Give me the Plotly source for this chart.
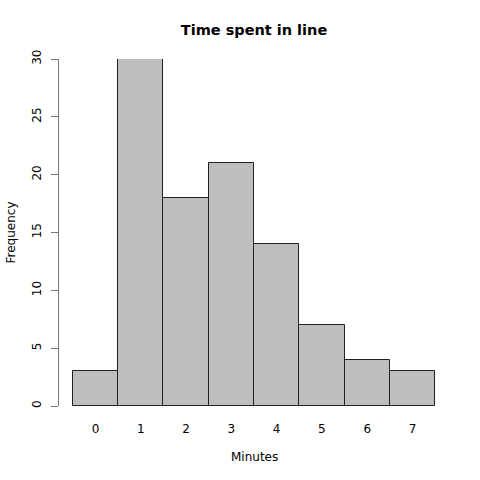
import plotly.graph_objects as go

minutes = [0, 1, 2, 3, 4, 5, 6, 7]
frequency = [3, 30, 18, 21, 14, 7, 4, 3]
y_ticks = [0, 5, 10, 15, 20, 25, 30]

font_family = "DejaVu Sans, Liberation Sans, sans-serif"

W = H = 480

fig = go.Figure(
    go.Bar(
        x=minutes,
        y=frequency,
        width=1,
        cliponaxis=False,
        marker=dict(color="#bebebe", line=dict(color="#222222", width=1)),
    )
)

fig.update_layout(
    width=W,
    height=H,
    margin=dict(l=59, r=31, t=59, b=74, autoexpand=False),
    paper_bgcolor="white",
    plot_bgcolor="white",
    bargap=0,
    showlegend=False,
    font=dict(family=font_family, size=12, color="black"),
    title=dict(
        text="<b>Time spent in line</b>",
        x=0.5,
        xref="paper",
        y=1 - 30 / H,
        yref="container",
        xanchor="center",
        yanchor="middle",
        font=dict(size=14.5, color="black"),
    ),
    annotations=[
        dict(text="Minutes", x=0.5, xref="paper", y=0, yref="paper",
             xanchor="center", yanchor="middle", yshift=-51, showarrow=False,
             font=dict(size=12)),
        dict(text="Frequency", x=0, xref="paper", y=0.5, yref="paper",
             xanchor="center", yanchor="middle", xshift=-49, textangle=-90,
             showarrow=False, font=dict(size=12)),
    ],
)

fig.update_xaxes(
    range=[-0.806, 7.806],
    tickvals=minutes,
    ticktext=[str(m) for m in minutes],
    showline=False,
    showgrid=False,
    zeroline=False,
    ticks="",
    ticklabelstandoff=14,
    automargin=False,
)

fig.update_yaxes(
    range=[0, 30],
    tickvals=y_ticks,
    ticktext=[str(v) for v in y_ticks],
    tickangle=-90,
    showline=True,
    linecolor="#777777",
    linewidth=1,
    ticks="outside",
    ticklen=7,
    tickcolor="#777777",
    showgrid=False,
    zeroline=False,
    ticklabelstandoff=5,
    automargin=False,
)

fig.write_html(
    "out.html",
    config={"displayModeBar": False},
    post_script="document.body.style.margin='0';",
)
